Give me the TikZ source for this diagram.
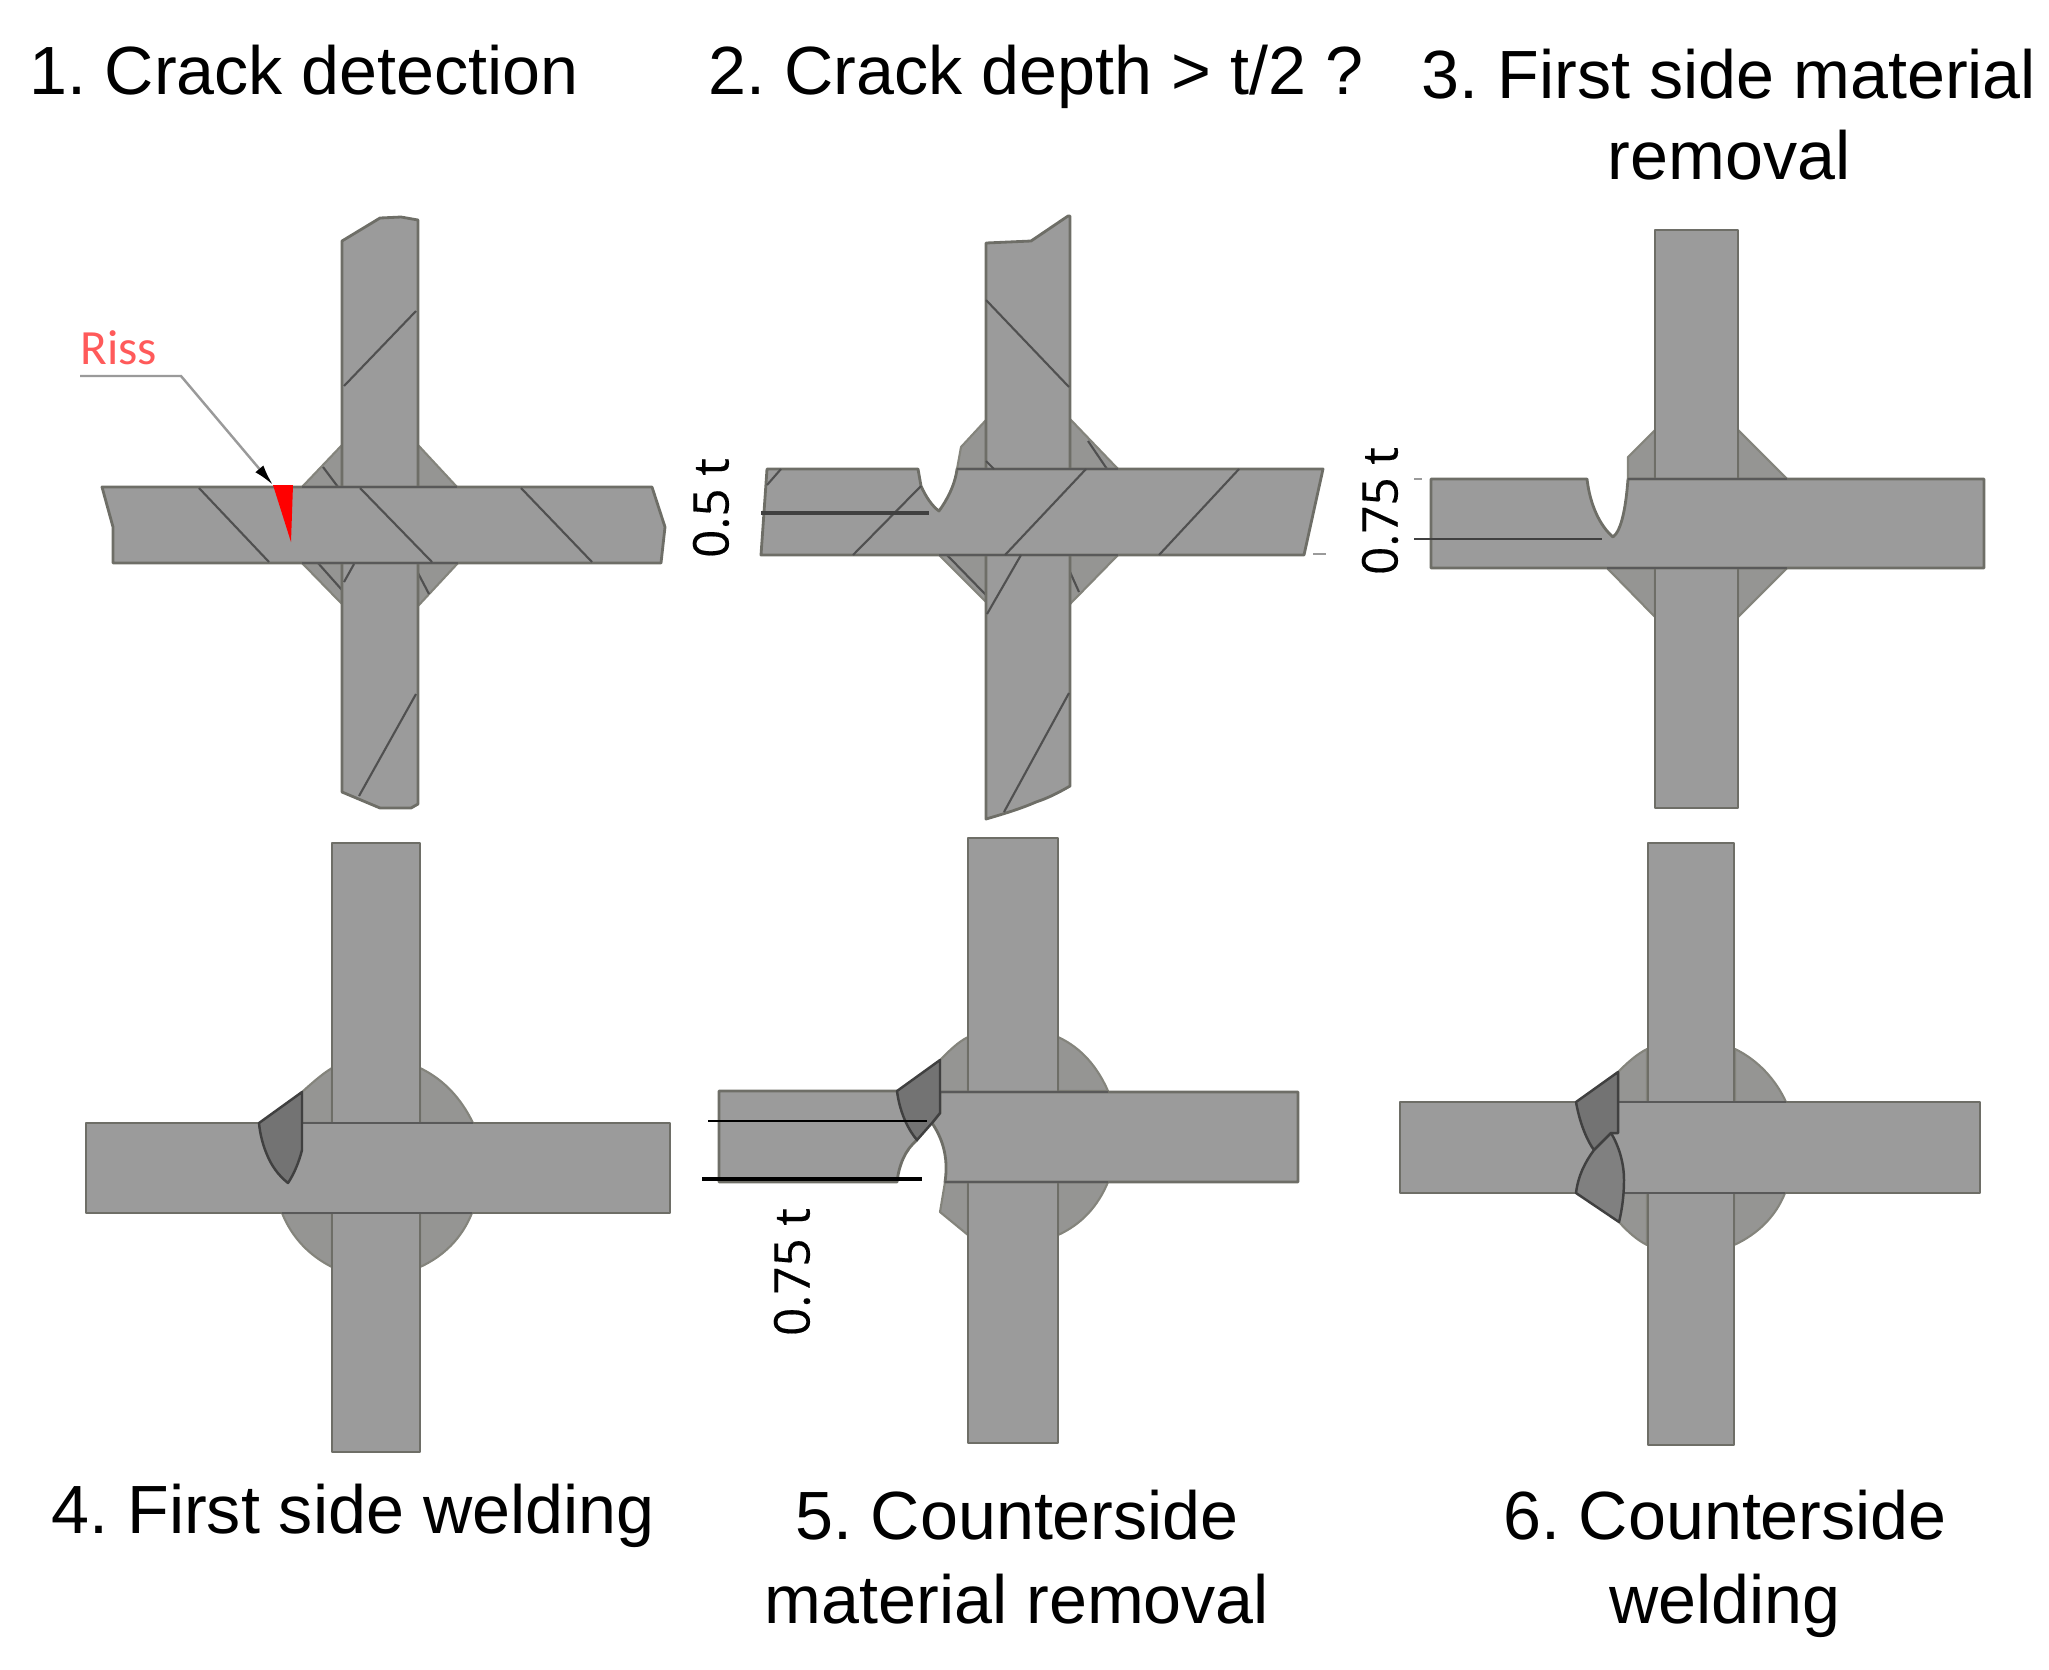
\documentclass[tikz,border=0pt]{standalone}
\usepackage{fontspec}
\setmainfont{Liberation Sans}
\newfontfamily\dimfont[FakeBold=0.3]{Open Sans}
\newfontfamily\rissfont{Carlito}
\usetikzlibrary{arrows.meta}
\definecolor{PlateGray}{HTML}{9B9B9B}
\definecolor{PlateEdge}{HTML}{6E6E67}
\definecolor{WeldGray}{HTML}{959593}
\definecolor{WeldEdge}{HTML}{84847C}
\definecolor{NewWeld}{HTML}{737373}
\definecolor{NewWeldLow}{HTML}{808080}
\definecolor{HatchGray}{HTML}{505050}
\definecolor{CrackRed}{HTML}{FF0000}
\definecolor{RissRed}{HTML}{FF5A5A}
\definecolor{LeaderGray}{HTML}{9A9A9A}
\tikzset{
    plate/.style={draw=PlateEdge, line width=0.8pt, fill=PlateGray, line join=round},
    weld/.style={draw=WeldEdge, line width=0.6pt, fill=WeldGray, line join=round},
    newweld/.style={draw=black!75, line width=0.7pt, fill=NewWeld, line join=round},
    seam/.style={draw=black!65, line width=0.8pt},
    hatch/.style={draw=HatchGray, line width=0.6pt},
    depthline/.style={draw=black!75, line width=0.7pt},
    tick/.style={draw=LeaderGray, line width=0.7pt},
    leader/.style={draw=LeaderGray, line width=0.7pt, -{Latex[black, length=6pt, width=3pt]}},
    steptitle/.style={anchor=base, inner sep=0pt, font=\fontsize{19.4}{23}\selectfont},
    dimlabel/.style={rotate=90, inner sep=0pt, font=\dimfont\fontsize{14}{16}\selectfont}
}
\frenchspacing
\begin{document}
\begin{tikzpicture}[x=0.01cm, y=-0.01cm]
  \useasboundingbox (0,0) rectangle (2049,1669);

  \node[steptitle] (titlea) at (304,94) {1. Crack detection};
  \node[steptitle] (titleb) at (1036,94) {2. Crack depth > t/2 ?};
  \node[steptitle] (titlec) at (1729,98) {3. First side material};
  \node[steptitle] (titlecb) at (1729,179) {removal};
  \node[steptitle] (titled) at (353,1533) {4. First side welding};
  \node[steptitle] (titlee) at (1017,1539) {5. Counterside};
  \node[steptitle] (titleeb) at (1017,1623) {material removal};
  \node[steptitle] (titlef) at (1725,1539) {6. Counterside};
  \node[steptitle] (titlefb) at (1725,1623) {welding};

  \draw[weld] (302,487) -- (342,445) -- (342,487) -- cycle;
  \draw[weld] (418,445) -- (457,487) -- (418,487) -- cycle;
  \draw[weld] (302,563) -- (342,604) -- (342,563) -- cycle;
  \draw[weld] (458,563) -- (418,606) -- (418,563) -- cycle;
  \draw[hatch] (323,467) -- (338,487) (407,487) -- (417,478) (418,573) -- (429,594) (318,563) -- (342,590);
  \draw[plate] (342,241) -- (380,218) -- (401,217) -- (418,220) -- (418,804) -- (411,808) -- (380,808) -- (342,792) -- cycle;
  \draw[plate] (102,487) -- (652,487) -- (665,527) -- (661,563) -- (113,563) -- (113,527) -- cycle;
  \draw[seam] (302,487) -- (457,487) (302,563) -- (458,563);
  \draw[hatch] (199,488) -- (269,562) (360,488) -- (432,562) (521,488) -- (592,562)
    (416,311) -- (344,386) (416,694) -- (359,796) (344,582) -- (354,564);
  \fill[CrackRed] (273,485) -- (293,485) -- (291,542) -- cycle;
  \node[anchor=base west, inner sep=0pt, text=RissRed, font=\rissfont\fontsize{14}{16}\selectfont] (riss) at (80,364) {Riss};
  \coordinate (rissstart) at (80,376);
  \coordinate (rissknee) at (181,376);
  \coordinate (risstip) at (273,485);
  \draw[leader] (rissstart) -- (rissknee) -- (risstip);

  \draw[weld] (957,469) -- (961,447) -- (986,420) -- (986,469) -- cycle;
  \draw[weld] (1070,419) -- (1118,469) -- (1070,469) -- cycle;
  \draw[weld] (939,555) -- (986,602) -- (986,555) -- cycle;
  \draw[weld] (1118,555) -- (1070,604) -- (1070,555) -- cycle;
  \draw[hatch] (1088,441) -- (1107,469) (947,555) -- (986,595) (1070,572) -- (1079,592);
  \draw[plate] (986,243) -- (1031,241) -- (1068,216) -- (1070,216) -- (1070,786) .. controls (1058,793) and (1048,798) .. (1036,802) .. controls (1020,809) and (1003,814) .. (986,819) -- cycle;
  \draw[plate] (767,469) -- (918,469) -- (921,486) .. controls (926,497) and (932,506) .. (939,511) .. controls (947,500) and (955,485) .. (957,469) -- (1323,469) -- (1304,555) -- (761,555) -- cycle;
  \draw[seam] (957,469) -- (1118,469) (939,555) -- (1118,555);
  \draw[hatch] (781,469) -- (767,485) (921,486) -- (853,555) (1086,469) -- (1005,555) (1239,469) -- (1159,555)
    (986,300) -- (1069,387) (1021,555) -- (987,614) (1069,693) -- (1004,812) (986,461) -- (994,469);
  \draw[depthline, line width=0.9pt] (761,513) -- (929,513);
  \draw[tick] (1313,554) -- (1326,554);
  \node[dimlabel] (deptha) at (711,508) {0.5 t};

  \draw[weld] (1628,479) -- (1628,457) -- (1655,430) -- (1655,479) -- cycle;
  \draw[weld] (1738,430) -- (1787,479) -- (1738,479) -- cycle;
  \draw[weld] (1607,568) -- (1655,617) -- (1655,568) -- cycle;
  \draw[weld] (1787,568) -- (1738,617) -- (1738,568) -- cycle;
  \draw[plate] (1655,230) rectangle (1738,808);
  \draw[plate] (1431,479) -- (1587,479) .. controls (1590,505) and (1600,526) .. (1613,537) .. controls (1622,530) and (1626,505) .. (1628,479) -- (1984,479) -- (1984,568) -- (1431,568) -- cycle;
  \draw[seam] (1628,479) -- (1787,479) (1607,568) -- (1787,568);
  \draw[depthline] (1414,539) -- (1602,539);
  \draw[tick] (1414,479) -- (1422,479);
  \node[dimlabel] (depthb) at (1380,511) {0.75 t};

  \draw[weld] (302,1123) -- (302,1092) .. controls (312,1083) and (322,1074) .. (332,1068) -- (332,1123) -- cycle;
  \draw[weld] (420,1068) .. controls (445,1080) and (462,1100) .. (473,1123) -- (420,1123) -- cycle;
  \draw[weld] (282,1213) .. controls (292,1238) and (310,1256) .. (332,1267) -- (332,1213) -- cycle;
  \draw[weld] (472,1213) .. controls (462,1238) and (444,1256) .. (420,1267) -- (420,1213) -- cycle;
  \draw[plate] (332,843) rectangle (420,1452);
  \draw[plate] (86,1123) rectangle (670,1213);
  \draw[seam] (302,1123) -- (473,1123) (282,1213) -- (472,1213);
  \draw[newweld] (259,1123) -- (302,1092) -- (302,1150) .. controls (299,1162) and (294,1174) .. (288,1183) .. controls (278,1175) and (272,1166) .. (268,1157) .. controls (263,1146) and (260,1134) .. (259,1123) -- cycle;

  \draw[weld] (940,1092) -- (940,1060) .. controls (950,1050) and (958,1042) .. (968,1037) -- (968,1092) -- cycle;
  \draw[weld] (1058,1037) .. controls (1082,1048) and (1098,1068) .. (1108,1091) -- (1058,1091) -- cycle;
  \draw[weld] (945,1182) -- (940,1212) -- (968,1235) -- (968,1182) -- cycle;
  \draw[weld] (1108,1182) .. controls (1098,1206) and (1082,1224) .. (1058,1235) -- (1058,1182) -- cycle;
  \draw[plate] (968,838) rectangle (1058,1443);
  \draw[plate] (719,1091) -- (897,1091) -- (917,1140) .. controls (905,1150) and (899,1165) .. (897,1182) -- (719,1182) -- cycle;
  \draw[plate] (940,1092) -- (1298,1092) -- (1298,1182) -- (945,1182) .. controls (948,1162) and (945,1142) .. (932,1123) -- (940,1113) -- cycle;
  \draw[seam] (940,1092) -- (1108,1092) (945,1182) -- (1108,1182);
  \draw[newweld] (897,1091) -- (940,1060) -- (940,1113) -- (932,1123) -- (917,1140) .. controls (910,1132) and (900,1115) .. (897,1091) -- cycle;
  \draw[draw=black, line width=0.8pt] (708,1121) -- (927,1121);
  \draw[draw=black, line width=1.1pt] (702,1179) -- (922,1179);
  \node[dimlabel] (depthc) at (792,1272) {0.75 t};

  \draw[weld] (1618,1102) -- (1618,1072) .. controls (1628,1062) and (1637,1054) .. (1647,1049) -- (1647,1102) -- cycle;
  \draw[weld] (1735,1049) .. controls (1758,1060) and (1776,1080) .. (1786,1102) -- (1735,1102) -- cycle;
  \draw[weld] (1619,1193) -- (1619,1222) .. controls (1628,1232) and (1637,1240) .. (1647,1245) -- (1647,1193) -- cycle;
  \draw[weld] (1785,1193) .. controls (1776,1216) and (1758,1234) .. (1734,1245) -- (1734,1193) -- cycle;
  \draw[plate] (1648,843) rectangle (1734,1445);
  \draw[plate] (1400,1102) rectangle (1980,1193);
  \draw[seam] (1618,1102) -- (1786,1102) (1619,1193) -- (1785,1193);
  \draw[newweld] (1576,1102) -- (1618,1072) -- (1618,1133) -- (1611,1133) -- (1594,1150) .. controls (1588,1142) and (1580,1125) .. (1576,1102) -- cycle;
  \draw[newweld, fill=NewWeldLow] (1611,1133) .. controls (1620,1148) and (1624,1165) .. (1624,1180) .. controls (1624,1195) and (1622,1210) .. (1619,1222) -- (1576,1193) .. controls (1578,1176) and (1585,1162) .. (1594,1150) -- cycle;
\end{tikzpicture}
\end{document}
